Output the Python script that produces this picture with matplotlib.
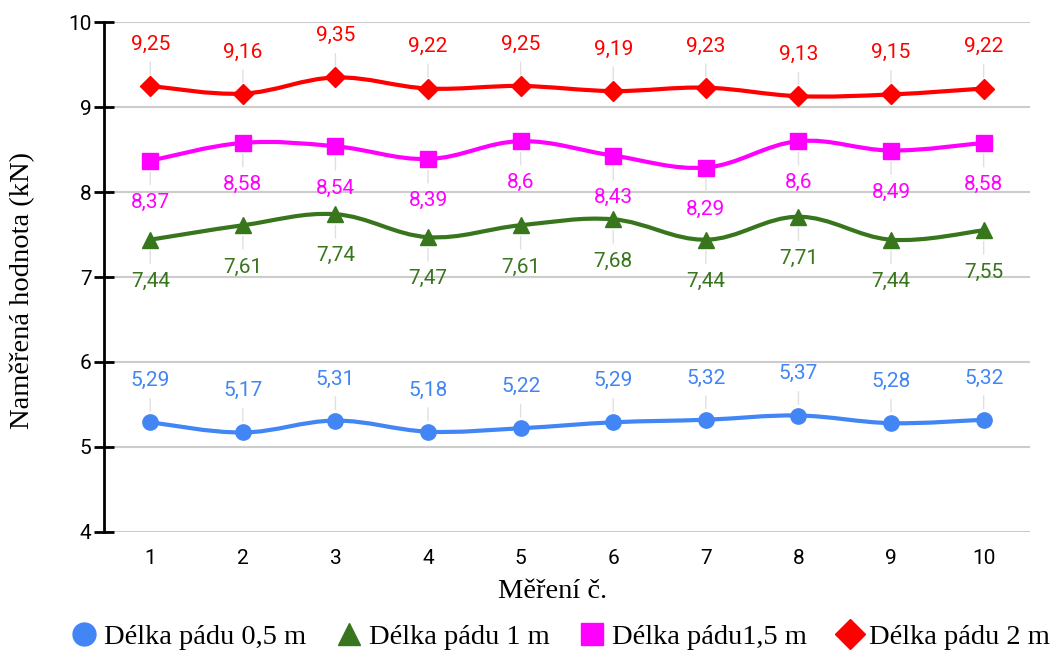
import matplotlib.pyplot as plt
import numpy as np
from matplotlib.path import Path
from matplotlib.patches import PathPatch

# namerene hodnoty pro jednotlive delky padu
mereni = list(range(1, 11))
pad_05 = [5.29, 5.17, 5.31, 5.18, 5.22, 5.29, 5.32, 5.37, 5.28, 5.32]
pad_1 = [7.44, 7.61, 7.74, 7.47, 7.61, 7.68, 7.44, 7.71, 7.44, 7.55]
pad_15 = [8.37, 8.58, 8.54, 8.39, 8.6, 8.43, 8.29, 8.6, 8.49, 8.58]
pad_2 = [9.25, 9.16, 9.35, 9.22, 9.25, 9.19, 9.23, 9.13, 9.15, 9.22]

nazvy = ['Délka pádu 0,5 m', 'Délka pádu 1 m', 'Délka pádu1,5 m', 'Délka pádu 2 m']
barvy = ['#4285F4', '#38761D', '#FF00FF', '#FF0000']
znacky = ['o', '^', 's', 'D']
popisek_nahoru = [True, False, False, True]


def hladka_cesta(x, y, t=0.18):
    # Catmull-Rom -> Bezier, vyhlazena spojnice bodu
    x = np.asarray(x, float)
    y = np.asarray(y, float)
    verts = [(x[0], y[0])]
    codes = [Path.MOVETO]
    n = len(x)
    for i in range(n - 1):
        x0, y0 = (x[i - 1], y[i - 1]) if i > 0 else (x[i], y[i])
        x3, y3 = (x[i + 2], y[i + 2]) if i + 2 < n else (x[i + 1], y[i + 1])
        c1 = (x[i] + (x[i + 1] - x0) * t, y[i] + (y[i + 1] - y0) * t)
        c2 = (x[i + 1] - (x3 - x[i]) * t, y[i + 1] - (y3 - y[i]) * t)
        verts += [c1, c2, (x[i + 1], y[i + 1])]
        codes += [Path.CURVE4] * 3
    return Path(verts, codes)


fig = plt.figure(figsize=(10.64, 6.55), dpi=100)
ax = fig.add_axes([0.0977, 0.188, 0.8703, 0.778])

for hodnoty, nazev, barva, znacka, nahoru in zip(
        [pad_05, pad_1, pad_15, pad_2], nazvy, barvy, znacky, popisek_nahoru):
    ax.add_patch(PathPatch(hladka_cesta(mereni, hodnoty), fill=False,
                           edgecolor=barva, lw=3, zorder=3))
    ax.plot(mereni, hodnoty, linestyle='none', marker=znacka, color=barva,
            markersize=11 if znacka != 'D' else 10, label=nazev, zorder=4)
    for xi, yi in zip(mereni, hodnoty):
        posun = 30 if nahoru else -30
        ax.annotate(f'{yi:g}'.replace('.', ','), (xi, yi),
                    xytext=(0, posun), textcoords='offset points',
                    ha='center', va='center', color=barva,
                    fontsize=15, family='Roboto', zorder=5,
                    arrowprops=dict(arrowstyle='-', color='#e0e0e0', lw=1,
                                    shrinkA=4, shrinkB=8))

ax.set_xlim(0.5, 10.5)
ax.set_ylim(4, 10)
ax.set_xticks(mereni)
ax.set_yticks(range(4, 11))
ax.yaxis.grid(True, color='#cccccc', lw=1.5)
ax.set_axisbelow(True)
for s in ['top', 'right', 'bottom']:
    ax.spines[s].set_visible(False)
ax.spines['left'].set_linewidth(2)
ax.tick_params(axis='y', direction='inout', length=14, width=2, pad=2)
ax.tick_params(axis='x', length=0, pad=12)
for lab in ax.get_xticklabels() + ax.get_yticklabels():
    lab.set_family('Roboto')
    lab.set_fontsize(15)

fig.text(553 / 1064, 1 - 592 / 655, 'Měření č.', family='Liberation Serif',
         fontsize=20.5, ha='center', va='center')
fig.text(22 / 1064, 1 - 291 / 655, 'Naměřená hodnota (kN)',
         family='Liberation Serif', fontsize=20.5, rotation=90,
         ha='center', va='center')

fig.legend(loc='center', bbox_to_anchor=(560 / 1064, 1 - 637 / 655), ncol=4,
           frameon=False, prop={'family': 'Liberation Serif', 'size': 20.5},
           handletextpad=0.2, columnspacing=1.0, handlelength=1.0,
           markerscale=1.5)

fig.savefig('out.png', dpi=100)
